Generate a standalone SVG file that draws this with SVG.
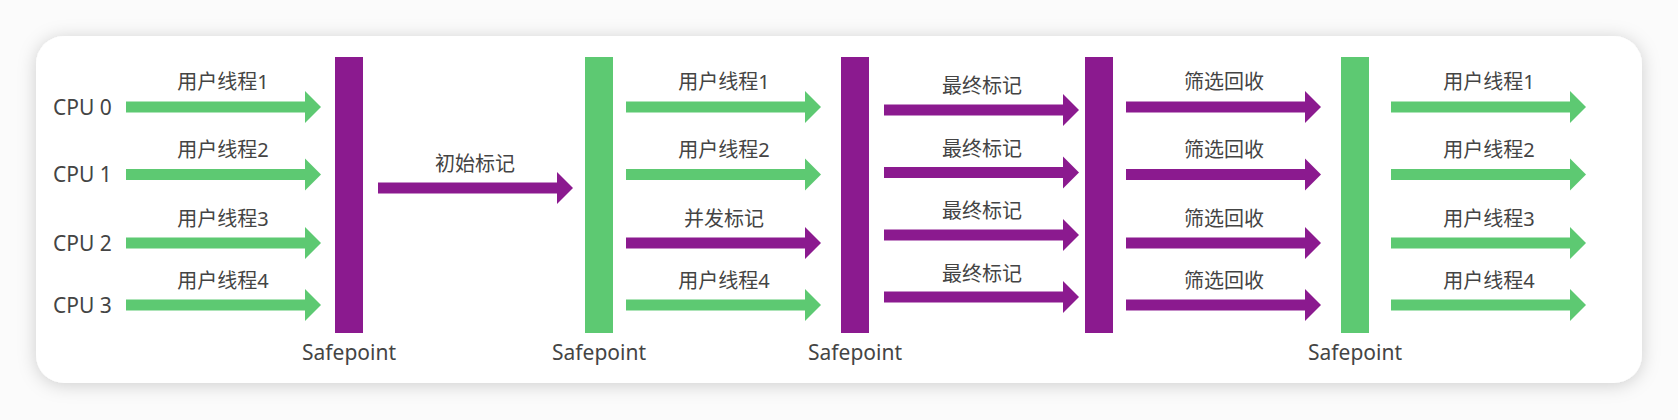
<svg xmlns="http://www.w3.org/2000/svg" xmlns:xlink="http://www.w3.org/1999/xlink" width="1678" height="420" viewBox="0 0 1678 420">
<defs>
<filter id="sh" x="-10%" y="-30%" width="120%" height="160%">
<feDropShadow dx="0" dy="2" stdDeviation="9" flood-color="#000" flood-opacity="0.18"/>
</filter>
<path id="arr" d="M0,-5.5 H179 V-16 L195,0 L179,16 V5.5 H0 Z"/>
<style>
.g{fill:#5dc972}
.p{fill:#8b1a8f}
text{font-family:"Noto Sans","Noto Sans CJK SC",sans-serif;font-size:20px;fill:#444444;dominant-baseline:central}
.l{font-size:21px}
.c{text-anchor:middle}
</style>
</defs>
<rect x="0" y="0" width="1678" height="420" fill="#fbfbfb"/>
<rect x="36" y="36" width="1606" height="347" rx="28" ry="28" fill="#ffffff" filter="url(#sh)"/>

<g id="cpu-labels">
<text class="l" x="53" y="107">CPU 0</text>
<text class="l" x="53" y="174">CPU 1</text>
<text class="l" x="53" y="243">CPU 2</text>
<text class="l" x="53" y="305">CPU 3</text>
</g>

<g id="safepoint1">
<rect class="p" x="335" y="57" width="28" height="276"/>
<text class="c l" x="349" y="352">Safepoint</text>
</g>
<g id="safepoint2">
<rect class="g" x="585" y="57" width="28" height="276"/>
<text class="c l" x="599" y="352">Safepoint</text>
</g>
<g id="safepoint3">
<rect class="p" x="841" y="57" width="28" height="276"/>
<text class="c l" x="855" y="352">Safepoint</text>
</g>
<g id="safepoint4">
<rect class="p" x="1085" y="57" width="28" height="276"/>
</g>
<g id="safepoint5">
<rect class="g" x="1341" y="57" width="28" height="276"/>
<text class="c l" x="1355" y="352">Safepoint</text>
</g>

<g id="connectors">
<use href="#arr" class="g" x="126" y="107"/>
<use href="#arr" class="g" x="126" y="174.5"/>
<use href="#arr" class="g" x="126" y="243"/>
<use href="#arr" class="g" x="126" y="305"/>

<use href="#arr" class="p" x="378" y="188"/>

<use href="#arr" class="g" x="626" y="107"/>
<use href="#arr" class="g" x="626" y="174.5"/>
<use href="#arr" class="p" x="626" y="243"/>
<use href="#arr" class="g" x="626" y="305"/>

<use href="#arr" class="p" x="884" y="110"/>
<use href="#arr" class="p" x="884" y="172.5"/>
<use href="#arr" class="p" x="884" y="235"/>
<use href="#arr" class="p" x="884" y="297"/>

<use href="#arr" class="p" x="1126" y="107"/>
<use href="#arr" class="p" x="1126" y="174.5"/>
<use href="#arr" class="p" x="1126" y="243"/>
<use href="#arr" class="p" x="1126" y="305"/>

<use href="#arr" class="g" x="1391" y="107"/>
<use href="#arr" class="g" x="1391" y="174.5"/>
<use href="#arr" class="g" x="1391" y="243"/>
<use href="#arr" class="g" x="1391" y="305"/>
</g>

<g id="connector-labels">
<text class="c" x="223" y="81">用户线程1</text>
<text class="c" x="223" y="149">用户线程2</text>
<text class="c" x="223" y="218">用户线程3</text>
<text class="c" x="223" y="280">用户线程4</text>

<text class="c" x="475" y="163">初始标记</text>

<text class="c" x="724" y="81">用户线程1</text>
<text class="c" x="724" y="149">用户线程2</text>
<text class="c" x="724" y="218">并发标记</text>
<text class="c" x="724" y="280">用户线程4</text>

<text class="c" x="982" y="85">最终标记</text>
<text class="c" x="982" y="148">最终标记</text>
<text class="c" x="982" y="210">最终标记</text>
<text class="c" x="982" y="273">最终标记</text>

<text class="c" x="1224" y="81">筛选回收</text>
<text class="c" x="1224" y="149">筛选回收</text>
<text class="c" x="1224" y="218">筛选回收</text>
<text class="c" x="1224" y="280">筛选回收</text>

<text class="c" x="1489" y="81">用户线程1</text>
<text class="c" x="1489" y="149">用户线程2</text>
<text class="c" x="1489" y="218">用户线程3</text>
<text class="c" x="1489" y="280">用户线程4</text>
</g>
</svg>
